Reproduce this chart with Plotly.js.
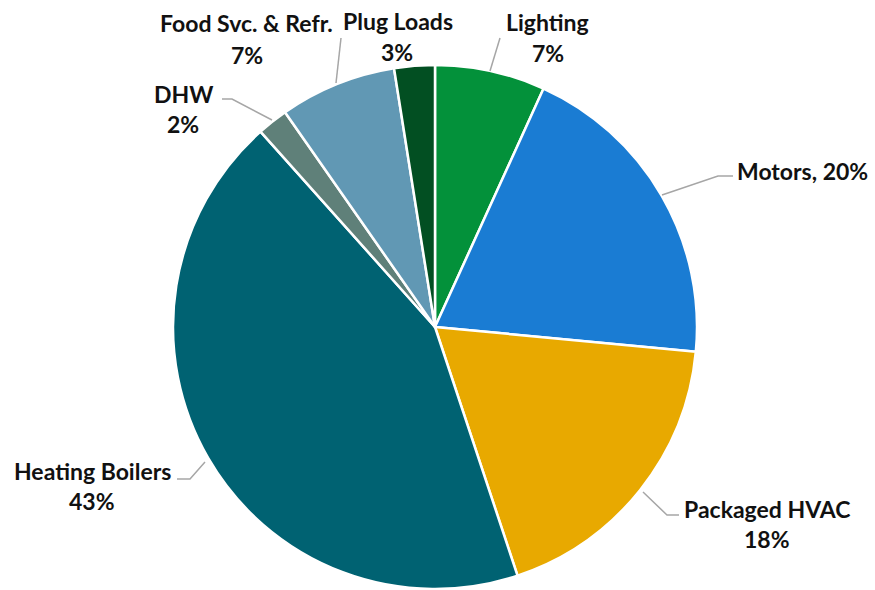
<!DOCTYPE html>
<html>
<head>
<meta charset="utf-8">
<script src="https://cdn.plot.ly/plotly-3.0.1.min.js"></script>
<style>html,body{margin:0;padding:0;background:#fff;}#chart{width:875px;height:590px;}</style>
</head>
<body>
<div id="chart"></div>
<script>
// Data (clockwise from 12 o'clock)
var categories = ['Lighting', 'Motors', 'Packaged HVAC', 'Heating Boilers', 'DHW', 'Food Svc. & Refr.', 'Plug Loads'];
var shares = [6.8, 19.7, 18.4, 43.5, 1.9, 7.2, 2.5];
var pctLabels = ['7%', '20%', '18%', '43%', '2%', '7%', '3%'];
var colors = ['#03913a', '#1a7cd3', '#e8a900', '#006272', '#5f8079', '#6198b4', '#024f22'];

var W = 875, H = 590;
var cx = 435, cy = 327, R = 262;
function px(x){ return x / W; }
function py(y){ return 1 - y / H; }

// label layout: [name x, name y, pct x, pct y] in pixels
var labelPos = [
  [547, 22, 548, 53],
  [735, 171, null, null],
  [767, 509, 767, 539],
  [92, 471, 92, 501],
  [183, 94, 183, 124],
  [246, 23, 247, 55],
  [398, 21, 397, 52]
];
// leader polylines in pixels
var leaders = [
  [[490, 71], [500, 38]],
  [[662, 195], [718, 176], [733, 176]],
  [[643, 492], [667, 515], [679, 515]],
  [[205, 462], [190, 479], [177, 479]],
  [[272, 120], [232, 99], [222, 99]],
  [[336, 83], [341, 38]],
  null
];

var annotations = [];
for (var i = 0; i < categories.length; i++) {
  var p = labelPos[i];
  var font = {family: 'Lato, "Open Sans", sans-serif', size: 23, color: '#111111', weight: 'bold'};
  if (p[2] === null) {
    annotations.push({x: px(p[0]), y: py(p[1]), xref: 'paper', yref: 'paper', xanchor: 'left', yanchor: 'middle',
      text: '<b>' + categories[i] + ', ' + pctLabels[i] + '</b>', showarrow: false, font: font});
  } else {
    annotations.push({x: px(p[0]), y: py(p[1]), xref: 'paper', yref: 'paper', xanchor: 'center', yanchor: 'middle',
      text: '<b>' + categories[i] + '</b>', showarrow: false, font: font});
    annotations.push({x: px(p[2]), y: py(p[3]), xref: 'paper', yref: 'paper', xanchor: 'center', yanchor: 'middle',
      text: '<b>' + pctLabels[i] + '</b>', showarrow: false, font: font});
  }
}
var shapes = [];
leaders.forEach(function(l){
  if (!l) return;
  var d = 'M ' + px(l[0][0]) + ',' + py(l[0][1]);
  for (var k = 1; k < l.length; k++) d += ' L ' + px(l[k][0]) + ',' + py(l[k][1]);
  shapes.push({type: 'path', xref: 'paper', yref: 'paper', path: d, line: {color: '#a6a6a6', width: 1.5}});
});

var trace = {
  type: 'pie',
  labels: categories,
  values: shares,
  sort: false,
  direction: 'clockwise',
  rotation: 0,
  textinfo: 'none',
  hoverinfo: 'label+percent',
  marker: {colors: colors, line: {color: '#ffffff', width: 2.5}},
  domain: {x: [px(cx - R), px(cx + R)], y: [py(cy + R), py(cy - R)]},
  showlegend: false
};

var layout = {
  width: W, height: H,
  margin: {l: 0, r: 0, t: 0, b: 0},
  paper_bgcolor: '#ffffff',
  plot_bgcolor: '#ffffff',
  showlegend: false,
  annotations: annotations,
  shapes: shapes
};
Plotly.newPlot('chart', [trace], layout, {displayModeBar: false, staticPlot: true});
</script>
</body>
</html>
